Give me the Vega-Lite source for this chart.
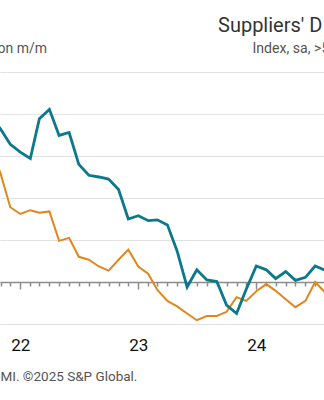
{
  "$schema": "https://vega.github.io/schema/vega-lite/v6.json",
  "width": 324,
  "height": 252,
  "autosize": "none",
  "padding": {"left": 0, "right": 0, "top": 72, "bottom": 76},
  "background": "white",
  "config": {"font": "Roboto", "view": {"stroke": null}},
  "title": {"text": "Suppliers' D", "anchor": "start", "dx": 221, "fontSize": 20, "fontWeight": "normal", "color": "#333333", "font": "Roboto", "offset": 5},
  "data": {"values": [
    {"date": "2021-10-01", "delivery": 3.95, "inflation": 3.2},
    {"date": "2021-11-01", "delivery": 3.64, "inflation": 2.58},
    {"date": "2021-12-01", "delivery": 3.28, "inflation": 1.78},
    {"date": "2022-01-01", "delivery": 3.09, "inflation": 1.62},
    {"date": "2022-02-01", "delivery": 2.94, "inflation": 1.71},
    {"date": "2022-03-01", "delivery": 3.89, "inflation": 1.65},
    {"date": "2022-04-01", "delivery": 4.11, "inflation": 1.68},
    {"date": "2022-05-01", "delivery": 3.49, "inflation": 0.98},
    {"date": "2022-06-01", "delivery": 3.56, "inflation": 1.05},
    {"date": "2022-07-01", "delivery": 2.80, "inflation": 0.60},
    {"date": "2022-08-01", "delivery": 2.54, "inflation": 0.53},
    {"date": "2022-09-01", "delivery": 2.50, "inflation": 0.37},
    {"date": "2022-10-01", "delivery": 2.45, "inflation": 0.27},
    {"date": "2022-11-01", "delivery": 2.20, "inflation": 0.53},
    {"date": "2022-12-01", "delivery": 1.50, "inflation": 0.77},
    {"date": "2023-01-01", "delivery": 1.58, "inflation": 0.37},
    {"date": "2023-02-01", "delivery": 1.46, "inflation": 0.19},
    {"date": "2023-03-01", "delivery": 1.48, "inflation": -0.19},
    {"date": "2023-04-01", "delivery": 1.36, "inflation": -0.45},
    {"date": "2023-05-01", "delivery": 0.74, "inflation": -0.58},
    {"date": "2023-06-01", "delivery": -0.12, "inflation": -0.75},
    {"date": "2023-07-01", "delivery": 0.29, "inflation": -0.91},
    {"date": "2023-08-01", "delivery": 0.05, "inflation": -0.81},
    {"date": "2023-09-01", "delivery": 0.01, "inflation": -0.81},
    {"date": "2023-10-01", "delivery": -0.55, "inflation": -0.71},
    {"date": "2023-11-01", "delivery": -0.75, "inflation": -0.36},
    {"date": "2023-12-01", "delivery": -0.17, "inflation": -0.45},
    {"date": "2024-01-01", "delivery": 0.38, "inflation": -0.22},
    {"date": "2024-02-01", "delivery": 0.29, "inflation": -0.05},
    {"date": "2024-03-01", "delivery": 0.08, "inflation": -0.21},
    {"date": "2024-04-01", "delivery": 0.25, "inflation": -0.41},
    {"date": "2024-05-01", "delivery": 0.04, "inflation": -0.60},
    {"date": "2024-06-01", "delivery": 0.11, "inflation": -0.45},
    {"date": "2024-07-01", "delivery": 0.38, "inflation": 0.00},
    {"date": "2024-08-01", "delivery": 0.28, "inflation": -0.25}
  ]},
  "encoding": {
    "x": {
      "field": "date",
      "type": "temporal",
      "scale": {"type": "utc", "domain": [{"year": 2021, "month": 10, "date": 30, "hours": 5, "utc": true}, {"year": 2024, "month": 7, "date": 28, "hours": 10, "utc": true}]},
      "axis": {
        "orient": "bottom",
        "offset": -42,
        "tickCount": {"interval": "month", "step": 1},
        "labelExpr": "utcFormat(datum.value, '%m') == '01' ? utcFormat(datum.value, '%y') : ''",
        "labelOverlap": false,
        "labelFlush": false,
        "labelBound": false,
        "labelFontSize": 17,
        "labelColor": "#111111",
        "labelPadding": 48,
        "domainColor": "#8c8c8c",
        "domainWidth": 1.5,
        "tickColor": "#8c8c8c",
        "tickWidth": 1.5,
        "tickSize": {"condition": {"test": "utcFormat(datum.value, '%m') == '01'", "value": 7}, "value": 4},
        "grid": false,
        "title": "MI. ©2025 S&P Global.",
        "titleAnchor": "start",
        "titleAlign": "left",
        "titleBaseline": "alphabetic",
        "titleX": 0,
        "titleY": 98,
        "titleFontSize": 13.5,
        "titleFontWeight": "normal",
        "titleColor": "#555555"
      }
    }
  },
  "layer": [
    {
      "mark": {"type": "line", "color": "#e0861c", "strokeWidth": 2, "clip": true},
      "encoding": {
        "y": {
          "field": "inflation",
          "type": "quantitative",
          "scale": {"domain": [-1, 5], "nice": false, "zero": false},
          "axis": {
            "orient": "left",
            "values": [-1, 0, 1, 2, 3, 4, 5],
            "labels": false,
            "ticks": false,
            "domain": false,
            "grid": true,
            "gridColor": "#e2e2e2",
            "gridWidth": 1.2,
            "title": "on m/m",
            "titleAngle": 0,
            "titleAlign": "left",
            "titleBaseline": "alphabetic",
            "titleX": -3,
            "titleY": -20,
            "titleFontSize": 14,
            "titleFontWeight": "normal",
            "titleColor": "#555555"
          }
        }
      }
    },
    {
      "mark": {"type": "line", "color": "#0b788b", "strokeWidth": 2.8, "clip": true},
      "encoding": {
        "y": {
          "field": "delivery",
          "type": "quantitative",
          "scale": {"domain": [-1, 5], "nice": false, "zero": false},
          "axis": {
            "orient": "right",
            "labels": false,
            "ticks": false,
            "domain": false,
            "grid": false,
            "title": "Index, sa, >5",
            "titleAngle": 0,
            "titleAlign": "left",
            "titleBaseline": "alphabetic",
            "titleX": -72,
            "titleY": -20,
            "titleFontSize": 14.1,
            "titleFontWeight": "normal",
            "titleColor": "#555555"
          }
        }
      }
    }
  ],
  "resolve": {"scale": {"y": "independent"}}
}
